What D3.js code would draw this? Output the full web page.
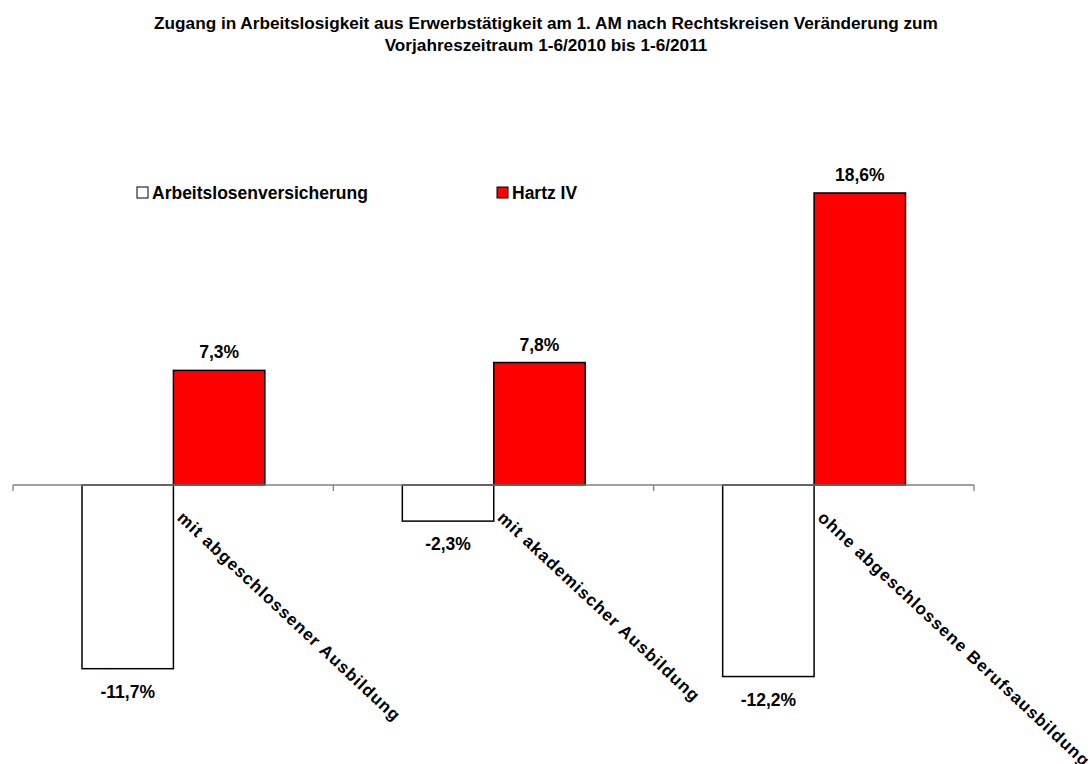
<!DOCTYPE html>
<html>
<head>
<meta charset="utf-8">
<script src="https://cdn.jsdelivr.net/npm/d3@7"></script>
<style>
  body { margin: 0; background: #fff; }
  text { font-family: "Liberation Sans", Arial, sans-serif; font-weight: bold; fill: #000; }
</style>
</head>
<body>
<div id="chart"></div>
<script>
const categories = ['mit abgeschlossener Ausbildung', 'mit akademischer Ausbildung', 'ohne abgeschlossene Berufsausbildung'];
const seriesNames = ['Arbeitslosenversicherung', 'Hartz IV'];
const arbeitslosenversicherung = [-11.7, -2.3, -12.2];
const hartzIV = [7.3, 7.8, 18.6];
const titleLines = ['Zugang in Arbeitslosigkeit aus Erwerbstätigkeit am 1. AM nach Rechtskreisen Veränderung zum', 'Vorjahreszeitraum 1-6/2010 bis 1-6/2011'];

const width = 1090;
const height = 764;
const colors = { 'Arbeitslosenversicherung': '#ffffff', 'Hartz IV': '#ff0000' };

const svg = d3.select('#chart')
  .append('svg')
  .attr('width', width)
  .attr('height', height)

const rows = categories.map((c, i) => ({
  cat: c,
  values: [
    { key: seriesNames[0], value: arbeitslosenversicherung[i] },
    { key: seriesNames[1], value: hartzIV[i] }
  ]
}))

const xScale = d3.scaleBand()
  .domain(categories)
  .range([13, 974])

const xInner = d3.scaleBand()
  .domain(seriesNames)
  .range([69, xScale.bandwidth() - 68.5])

const yScale = d3.scaleLinear()
  .domain([-15, 20])
  .range([720.5, 171])

// German decimal comma, plain hyphen for negatives
const fmt = v => (v < 0 ? '-' : '') + Math.abs(v).toFixed(1).replace('.', ',') + '%'

// title
svg.append('g')
  .selectAll('text')
  .data(titleLines)
  .enter()
  .append('text')
  .attr('x', 546)
  .attr('y', (d, i) => 29 + i * 22)
  .attr('text-anchor', 'middle')
  .style('font-size', '17.2px')
  .text(d => d)

// bars
const groups = svg.selectAll('.group')
  .data(rows)
  .enter()
  .append('g')
  .attr('class', 'group')
  .attr('transform', d => `translate(${xScale(d.cat)}, 0)`)

groups.selectAll('rect')
  .data(d => d.values)
  .enter()
  .append('rect')
  .attr('x', d => xInner(d.key))
  .attr('y', d => yScale(Math.max(0, d.value)))
  .attr('width', xInner.bandwidth())
  .attr('height', d => Math.abs(yScale(d.value) - yScale(0)))
  .style('fill', d => colors[d.key])
  .style('stroke', '#000')
  .style('stroke-width', 1.5)

groups.selectAll('.val')
  .data(d => d.values)
  .enter()
  .append('text')
  .attr('class', 'val')
  .attr('x', d => xInner(d.key) + xInner.bandwidth() / 2)
  .attr('y', d => d.value >= 0 ? yScale(d.value) - 12 : yScale(d.value) + 29)
  .attr('text-anchor', 'middle')
  .style('font-size', '17.5px')
  .text(d => fmt(d.value))

// axis line with ticks at band edges
const y0 = yScale(0)
svg.append('line')
  .attr('x1', xScale.range()[0])
  .attr('x2', xScale.range()[1])
  .attr('y1', y0)
  .attr('y2', y0)
  .style('stroke', '#808080')
  .style('stroke-width', 1.3)

const edges = categories.map(c => xScale(c)).concat([xScale.range()[1]])
svg.selectAll('.tick')
  .data(edges)
  .enter()
  .append('line')
  .attr('class', 'tick')
  .attr('x1', d => d)
  .attr('x2', d => d)
  .attr('y1', y0)
  .attr('y2', y0 + 6)
  .style('stroke', '#808080')
  .style('stroke-width', 1.3)

// redraw zero-line segments of bars on top
groups.selectAll('.zero')
  .data(d => d.values)
  .enter()
  .append('line')
  .attr('x1', d => xInner(d.key))
  .attr('x2', d => xInner(d.key) + xInner.bandwidth())
  .attr('y1', y0)
  .attr('y2', y0)
  .style('stroke', '#000')
  .style('stroke-width', 1.5)

// category labels
svg.selectAll('.cat')
  .data(categories)
  .enter()
  .append('text')
  .attr('class', 'cat')
  .attr('transform', d => `translate(${xScale(d) + xScale.bandwidth() / 2 + 3}, ${y0 + 34}) rotate(43)`)
  .style('font-size', '17px')
  .style('letter-spacing', '1.05px')
  .text(d => d)

// legend
const legendX = [137, 497]
const legend = svg.selectAll('.legend')
  .data(seriesNames)
  .enter()
  .append('g')
  .attr('class', 'legend')
  .attr('transform', (d, i) => `translate(${legendX[i]}, 187)`)

legend.append('rect')
  .attr('width', 11)
  .attr('height', 11)
  .style('fill', d => colors[d])
  .style('stroke', '#000')
  .style('stroke-width', 1)

legend.append('text')
  .attr('x', 15)
  .attr('y', 12)
  .style('font-size', '17.5px')
  .text(d => d)
</script>
</body>
</html>
